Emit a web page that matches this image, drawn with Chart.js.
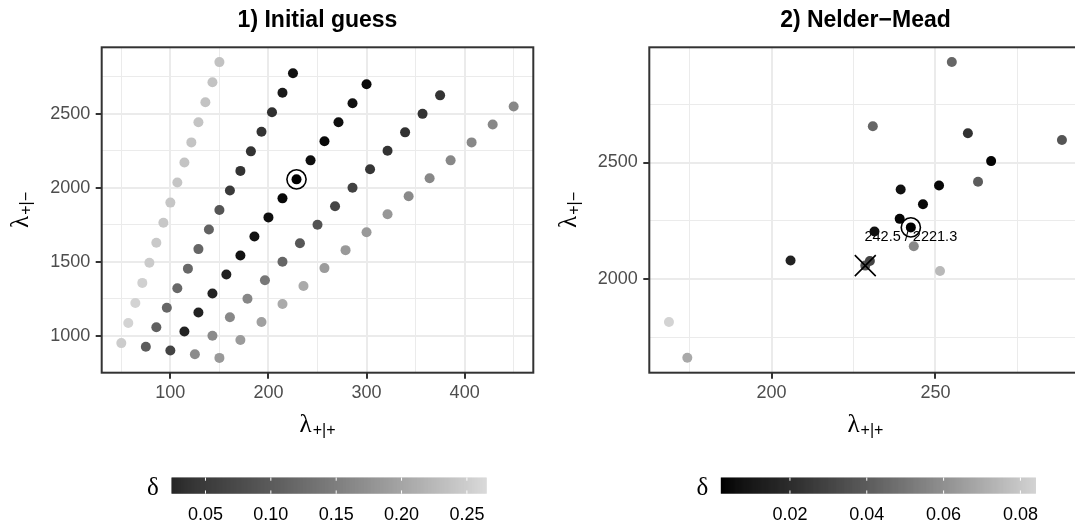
<!DOCTYPE html>
<html>
<head>
<meta charset="utf-8">
<title>Initial guess / Nelder-Mead</title>
<script src="https://cdn.jsdelivr.net/npm/chart.js@4.4.1/dist/chart.umd.min.js"></script>
<style>
  html, body { margin: 0; padding: 0; background: #fff; overflow: hidden; width: 1075px; height: 525px; }
  canvas { position: absolute; top: 0; }
  #left { left: 0; }
  #right { left: 540px; }
</style>
</head>
<body>
<canvas id="left" width="540" height="525"></canvas>
<canvas id="right" width="546" height="525"></canvas>
<script>
// Panel 1: grid of starting values (lambda_{+|+}, lambda_{+|-}) with their delta
const initLambdaPP = [
  50, 57.1, 64.3, 71.4, 78.6, 85.7, 92.9, 100, 107.1, 114.3, 121.4, 128.6, 135.7, 142.9, 150,
  75, 85.7, 96.4, 107.1, 117.9, 128.6, 139.3, 150, 160.7, 171.4, 182.1, 192.9, 203.6, 214.3, 225,
  100, 114.3, 128.6, 142.9, 157.1, 171.4, 185.7, 200, 214.3, 228.6, 242.9, 257.1, 271.4, 285.7, 300,
  125, 142.9, 160.7, 178.6, 196.4, 214.3, 232.1, 250, 267.9, 285.7, 303.6, 321.4, 339.3, 357.1, 375,
  150, 171.4, 192.9, 214.3, 235.7, 257.1, 278.6, 300, 321.4, 342.9, 364.3, 385.7, 407.1, 428.6, 450
];
const initLambdaPM = [
  950, 1085.7, 1221.4, 1357.1, 1492.9, 1628.6, 1764.3, 1900, 2035.7, 2171.4, 2307.1, 2442.9, 2578.6, 2714.3, 2850,
  925, 1057.1, 1189.3, 1321.4, 1453.6, 1585.7, 1717.9, 1850, 1982.1, 2114.3, 2246.4, 2378.6, 2510.7, 2642.9, 2775,
  900, 1028.6, 1157.1, 1285.7, 1414.3, 1542.9, 1671.4, 1800, 1928.6, 2057.1, 2185.7, 2314.3, 2442.9, 2571.4, 2700,
  875, 1000, 1125, 1250, 1375, 1500, 1625, 1750, 1875, 2000, 2125, 2250, 2375, 2500, 2625,
  850, 971.4, 1092.9, 1214.3, 1335.7, 1457.1, 1578.6, 1700, 1821.4, 1942.9, 2064.3, 2185.7, 2307.1, 2428.6, 2550
];
const initDelta = [
  0.258, 0.265, 0.265, 0.262, 0.257, 0.255, 0.253, 0.252, 0.251, 0.250, 0.250, 0.250, 0.249, 0.249, 0.248,
  0.135, 0.140, 0.147, 0.150, 0.150, 0.147, 0.142, 0.127, 0.094, 0.084, 0.084, 0.084, 0.081, 0.050, 0.038,
  0.106, 0.062, 0.062, 0.062, 0.060, 0.040, 0.038, 0.036, 0.030, 0.024, 0.036, 0.031, 0.036, 0.038, 0.032,
  0.190, 0.188, 0.186, 0.184, 0.167, 0.147, 0.130, 0.125, 0.108, 0.104, 0.088, 0.084, 0.082, 0.084, 0.086,
  0.204, 0.206, 0.212, 0.222, 0.222, 0.206, 0.204, 0.204, 0.202, 0.188, 0.186, 0.186, 0.186, 0.186, 0.186
];
const initBest = [228.6, 2057.1];

// Panel 2: points visited by Nelder-Mead
const nmLambdaPP = [168.7, 174.3, 205.8, 228.6, 230.0, 230.9, 231.4, 239.1, 239.4, 242.5, 243.4, 246.2, 251.1, 251.4, 255.0, 259.9, 263.0, 267.0, 288.6];
const nmLambdaPM = [1815, 1661, 2079, 2057.1, 2077, 2656, 2204, 2258, 2384, 2221.3, 2140, 2321, 2401, 2034, 2932, 2626, 2417, 2506, 2597];
const nmDelta = [0.084, 0.069, 0.015, 0.037, 0.030, 0.044, 0.007, 0.003, 0.007, 0.002, 0.057, 0.004, 0.004, 0.075, 0.044, 0.022, 0.040, 0.003, 0.037];
const nmBest = [242.5, 2221.3];
const nmStart = [228.6, 2057.1];

// axis breaks
const initXMajor = [100, 200, 300, 400];
const initXMinor = [50, 150, 250, 350, 450];
const initYMajor = [1000, 1500, 2000, 2500];
const initYMinor = [1250, 1750, 2250, 2750];
const initLegendTicks = [0.05, 0.10, 0.15, 0.20, 0.25];
const nmXMajor = [200, 250];
const nmXMinor = [175, 225, 275];
const nmYMajor = [2000, 2500];
const nmYMinor = [1750, 2250, 2750];
const nmLegendTicks = [0.02, 0.04, 0.06, 0.08];

Chart.defaults.font.family = '"Liberation Sans", Arial, sans-serif';

// black -> lightgrey, interpolated in CIE L*
function lightness(hex) {
  const c = parseInt(hex.slice(1, 3), 16) / 255;
  const Y = c <= 0.04045 ? c / 12.92 : Math.pow((c + 0.055) / 1.055, 2.4);
  return Y > 0.008856 ? 116 * Math.cbrt(Y) - 16 : 903.3 * Y;
}
const L_HIGH = lightness('#D3D3D3');
function greyFor(d, lo, hi) {
  const t = Math.max(0, Math.min(1, (d - lo) / (hi - lo)));
  const L = t * L_HIGH;
  const Y = L > 8 ? Math.pow((L + 16) / 116, 3) : L / 903.3;
  const c = Y <= 0.0031308 ? 12.92 * Y : 1.055 * Math.pow(Y, 1 / 2.4) - 0.055;
  const v = Math.round(Math.max(0, Math.min(1, c)) * 255);
  return `rgb(${v},${v},${v})`;
}

function axis(min, max, major, minor, pad, fit) {
  const all = major.concat(minor).sort((a, b) => a - b);
  const isMajor = c => c.tick && major.includes(c.tick.value);
  return {
    type: 'linear', min, max,
    afterBuildTicks: s => { s.ticks = all.map(v => ({ value: v })); },
    afterFit: fit,
    border: { display: false },
    grid: {
      color: '#EBEBEB',
      lineWidth: c => isMajor(c) ? 2 : 1,
      tickColor: c => isMajor(c) ? '#333333' : 'rgba(0,0,0,0)',
      tickWidth: 2, tickLength: 6, drawTicks: true
    },
    ticks: {
      autoSkip: false, maxRotation: 0, padding: pad,
      color: '#4D4D4D', font: { size: 18 },
      callback: v => major.includes(v) ? String(v) : ''
    }
  };
}

function drawLambda(ctx, sub, x, y, rotate) {
  ctx.save();
  ctx.translate(x, y);
  if (rotate) ctx.rotate(-Math.PI / 2);
  ctx.fillStyle = '#000';
  ctx.textAlign = 'left';
  ctx.textBaseline = 'alphabetic';
  ctx.font = '25px "Liberation Serif"';
  const w1 = ctx.measureText('λ').width;
  ctx.font = '16px "Liberation Sans"';
  const w2 = ctx.measureText(sub).width;
  const x0 = -(w1 + w2 + 1) / 2;
  ctx.font = '25px "Liberation Serif"';
  ctx.fillText('λ', x0, 0);
  ctx.font = '16px "Liberation Sans"';
  ctx.fillText(sub, x0 + w1 + 1, 3);
  ctx.restore();
}

function panel(id, p) {
  const lo = Math.min(...p.delta), hi = Math.max(...p.delta);
  const datasets = [{
    data: [{ x: p.best[0], y: p.best[1] }],
    pointStyle: 'circle', pointRadius: 9.6, borderWidth: 1.6,
    borderColor: '#000', backgroundColor: 'rgba(0,0,0,0)', order: 0
  }];
  if (p.start) {
    datasets.push({
      data: [{ x: p.start[0], y: p.start[1] }],
      pointStyle: 'crossRot', pointRadius: 14.8, borderWidth: 1.6,
      borderColor: '#000', backgroundColor: 'rgba(0,0,0,0)', order: 1
    });
  }
  datasets.push({
    data: p.x.map((x, i) => ({ x, y: p.y[i] })),
    pointRadius: 5, borderWidth: 0,
    backgroundColor: c => greyFor(p.delta[c.dataIndex], lo, hi),
    order: 2
  });

  const decor = {
    id: 'decor',
    beforeDatasetsDraw(chart) {
      if (!p.label) return;
      const { ctx, scales } = chart;
      const px = scales.x.getPixelForValue(p.best[0]);
      const py = scales.y.getPixelForValue(p.best[1]);
      ctx.save();
      ctx.fillStyle = '#000';
      ctx.font = '14.5px "Liberation Sans"';
      ctx.textAlign = 'center';
      ctx.textBaseline = 'alphabetic';
      ctx.fillText(`${p.best[0].toFixed(1)} / ${p.best[1].toFixed(1)}`, px, py + 13.4);
      ctx.restore();
    },
    afterDraw(chart) {
      const { ctx, chartArea: a } = chart;
      const cx = (a.left + a.right) / 2;
      ctx.save();
      // panel border
      ctx.strokeStyle = '#333333';
      ctx.lineWidth = 2;
      ctx.strokeRect(a.left, a.top, a.right - a.left, a.bottom - a.top);
      // title
      ctx.fillStyle = '#000';
      ctx.font = 'bold 23px "Liberation Sans"';
      ctx.textAlign = 'center';
      ctx.textBaseline = 'alphabetic';
      ctx.fillText(p.title, cx, 27);
      ctx.restore();
      // axis titles
      drawLambda(ctx, '+|+', cx, 432, false);
      drawLambda(ctx, '+|\u2212', a.left - 73.7, (a.top + a.bottom) / 2, true);
      // colour bar
      const bx = p.legendLeft, by = 477.5, bw = 315, bh = 16.2;
      ctx.save();
      for (let i = 0; i < bw; i++) {
        ctx.fillStyle = greyFor(lo + (hi - lo) * (i + 0.5) / bw, lo, hi);
        ctx.fillRect(bx + i, by, 1.2, bh);
      }
      ctx.strokeStyle = '#fff';
      ctx.lineWidth = 1;
      ctx.fillStyle = '#000';
      ctx.font = '18px "Liberation Sans"';
      ctx.textAlign = 'center';
      ctx.textBaseline = 'middle';
      p.legendTicks.forEach(v => {
        const tx = bx + (v - lo) / (hi - lo) * bw;
        ctx.beginPath();
        ctx.moveTo(tx, by); ctx.lineTo(tx, by + bh / 5);
        ctx.moveTo(tx, by + bh); ctx.lineTo(tx, by + bh - bh / 5);
        ctx.stroke();
        ctx.fillText(v.toFixed(2), tx, 515);
      });
      ctx.font = '25px "Liberation Serif"';
      ctx.textBaseline = 'alphabetic';
      ctx.fillText('δ', bx - 18.5, 495);
      ctx.restore();
    }
  };

  return new Chart(document.getElementById(id), {
    type: 'scatter',
    data: { datasets },
    options: {
      responsive: false,
      devicePixelRatio: 1,
      animation: false,
      events: [],
      layout: { autoPadding: false, padding: { top: 47.3, right: p.padRight, bottom: 0, left: 0 } },
      plugins: { legend: { display: false }, tooltip: { enabled: false } },
      scales: {
        x: axis(p.xMin, p.xMax, p.xMajor, p.xMinor, 4, s => { s.height = 525 - 372.7; }),
        y: axis(p.yMin, p.yMax, p.yMajor, p.yMinor, 5.5, s => { s.width = p.plotLeft; })
      }
    },
    plugins: [decor]
  });
}

panel('left', {
  title: '1) Initial guess',
  x: initLambdaPP, y: initLambdaPM, delta: initDelta, best: initBest,
  xMin: 30, xMax: 470, yMin: 750, yMax: 2950,
  xMajor: initXMajor, xMinor: initXMinor, yMajor: initYMajor, yMinor: initYMinor,
  legendTicks: initLegendTicks,
  plotLeft: 101.7, padRight: 6.7, legendLeft: 171.5
});

panel('right', {
  title: '2) Nelder\u2212Mead',
  x: nmLambdaPP, y: nmLambdaPM, delta: nmDelta, best: nmBest, start: nmStart, label: true,
  xMin: 162.7, xMax: 294.6, yMin: 1597, yMax: 2995,
  xMajor: nmXMajor, xMinor: nmXMinor, yMajor: nmYMajor, yMinor: nmYMinor,
  legendTicks: nmLegendTicks,
  plotLeft: 109.3, padRight: 4.4, legendLeft: 180.8
});
</script>
</body>
</html>
